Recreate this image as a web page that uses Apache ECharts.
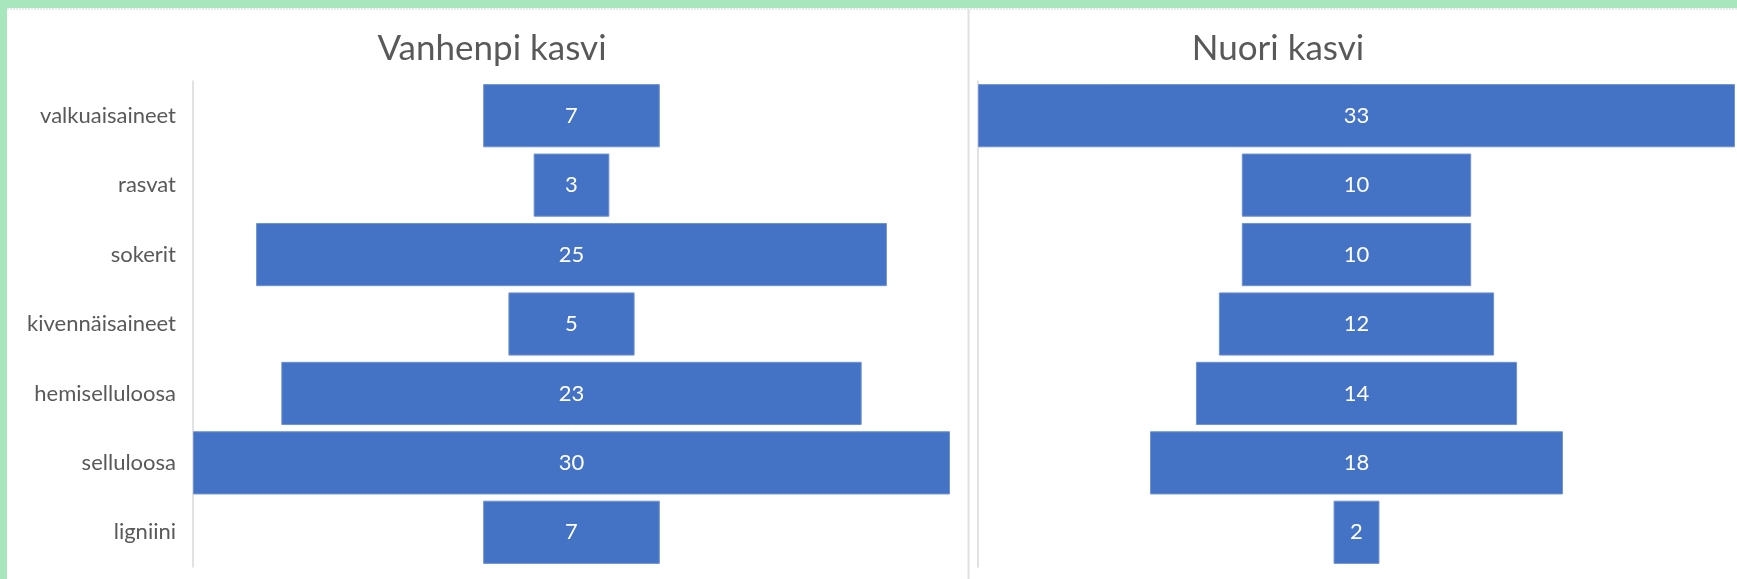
<!DOCTYPE html>
<html>
<head>
<meta charset="utf-8">
<script src="https://cdn.jsdelivr.net/npm/echarts@6/dist/echarts.min.js"></script>
<style>
  html, body { margin: 0; padding: 0; background: #fff; }
  #main { width: 1737px; height: 579px; }
</style>
</head>
<body>
<div id="main"></div>
<script>
// components, top to bottom
var categories = ['valkuaisaineet', 'rasvat', 'sokerit', 'kivennäisaineet', 'hemiselluloosa', 'selluloosa', 'ligniini'];
var olderPlant = [7, 3, 25, 5, 23, 30, 7];
var youngPlant = [33, 10, 10, 12, 14, 18, 2];
var titles = ['Vanhenpi kasvi', 'Nuori kasvi'];

var FONT = 'Lato';
var BLUE = '#4472C4';

// centred bars: invisible spacer of half the missing width
function spacer(values, max) {
    return values.map(function (v) { return (max - v) / 2; });
}
var maxOld = Math.max.apply(null, olderPlant);
var maxYoung = Math.max.apply(null, youngPlant);

var chart = echarts.init(document.getElementById('main'));

function yAx(idx, showLabels) {
    return {
        type: 'category',
        gridIndex: idx,
        data: categories,
        inverse: true,
        axisTick: { show: false },
        axisLine: { show: true, lineStyle: { color: '#d9d9d9', width: 1.5 } },
        axisLabel: {
            show: showLabels,
            margin: 17,
            fontFamily: FONT,
            fontSize: 22,
            color: '#595959'
        }
    };
}

function xAx(idx, max) {
    return {
        type: 'value',
        gridIndex: idx,
        min: 0,
        max: max,
        show: false,
        splitLine: { show: false }
    };
}

function barPair(idx, values, max) {
    return [
        {
            type: 'bar',
            xAxisIndex: idx,
            yAxisIndex: idx,
            stack: 's' + idx,
            data: spacer(values, max),
            itemStyle: { color: 'transparent' },
            barCategoryGap: '9%',
            silent: true
        },
        {
            type: 'bar',
            xAxisIndex: idx,
            yAxisIndex: idx,
            stack: 's' + idx,
            data: values,
            barCategoryGap: '9%',
            itemStyle: { color: BLUE, borderColor: '#6f92d3', borderWidth: 1 },
            label: {
                show: true,
                position: 'inside',
                fontFamily: FONT,
                fontSize: 22,
                color: '#ffffff'
            }
        }
    ];
}

var option = {
    backgroundColor: '#ffffff',
    animation: false,
    title: [
        {
            text: titles[0],
            left: 487, top: 26,
            textAlign: 'center',
            textStyle: { fontFamily: FONT, fontSize: 35, fontWeight: 'normal', color: '#595959' }
        },
        {
            text: titles[1],
            left: 1273, top: 26,
            textAlign: 'center',
            textStyle: { fontFamily: FONT, fontSize: 35, fontWeight: 'normal', color: '#595959' }
        }
    ],
    graphic: [
        { type: 'rect', shape: { x: 0, y: 0, width: 1737, height: 8 }, style: { fill: '#a8e6bd' }, silent: true },
        { type: 'rect', shape: { x: 0, y: 0, width: 7, height: 579 }, style: { fill: '#a8e6bd' }, silent: true },
        { type: 'line', shape: { x1: 7, y1: 9, x2: 1737, y2: 9 }, style: { stroke: '#e3e3e3', lineWidth: 1.5, lineDash: [2, 1] }, silent: true },
        { type: 'line', shape: { x1: 968.5, y1: 9, x2: 968.5, y2: 579 }, style: { stroke: '#e0e0e0', lineWidth: 2 }, silent: true }
    ],
    grid: [
        { left: 193, top: 81, width: 757, height: 486 },
        { left: 978, top: 81, width: 757, height: 486 }
    ],
    xAxis: [xAx(0, maxOld), xAx(1, maxYoung)],
    yAxis: [yAx(0, true), yAx(1, false)],
    series: barPair(0, olderPlant, maxOld).concat(barPair(1, youngPlant, maxYoung))
};

chart.setOption(option);
</script>
</body>
</html>
